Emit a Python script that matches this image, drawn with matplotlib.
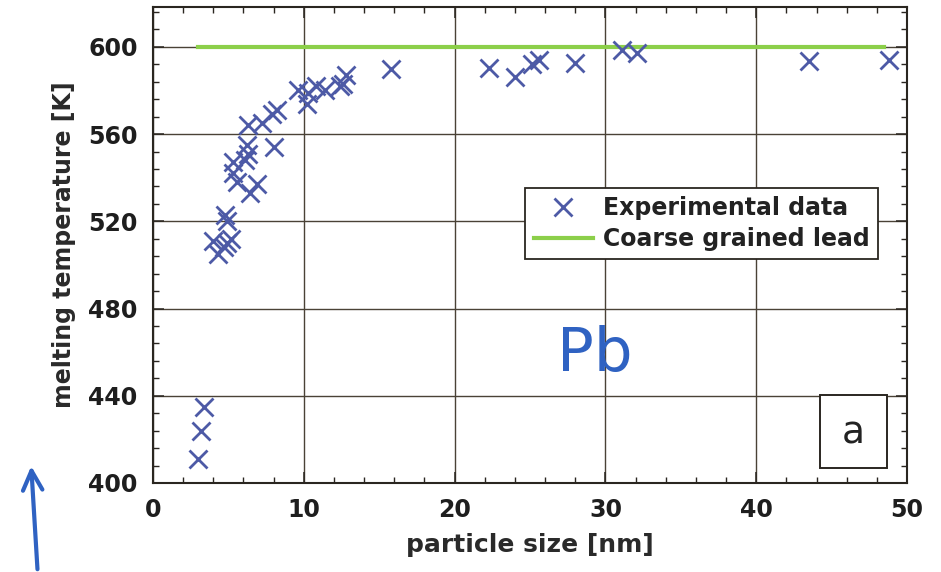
import matplotlib
matplotlib.use("Agg")
from matplotlib import pyplot as plt
from matplotlib.patches import Rectangle
from matplotlib.ticker import MultipleLocator

# experimental melting points of Pb nanoparticles
size_nm = [3.0, 3.2, 3.4, 4.0, 4.3, 4.7, 4.9, 5.2, 4.8, 4.9,
           5.6, 5.3, 5.3, 6.1, 6.3, 6.2, 6.4, 6.9, 8.0, 6.3,
           7.2, 8.2, 7.9, 9.6, 10.3, 10.2, 10.8, 11.4, 12.4, 12.8,
           12.6, 15.8, 22.3, 24.0, 25.1, 25.6, 28.0, 31.1, 32.1, 43.5,
           48.8]
melt_K = [411, 424, 435, 511, 505, 508, 510, 512, 523, 520,
          538, 542, 547, 548, 551, 555, 533, 537, 554, 564,
          565, 571, 569, 580, 579, 574, 582, 580, 582, 587,
          583, 590, 590.5, 586, 592, 594, 592.5, 598.5, 597, 593.5,
          594]

# bulk value
bulk_size = [3.0, 48.5]
bulk_K = [600, 600]

font = 'DejaVu Sans'
ink = '#2a2620'
grid_c = '#4a4236'

fig = plt.figure(figsize=(9.41, 5.72), dpi=100)
ax = fig.add_axes([0.1626, 0.1556, 0.8013, 0.8322])

ax.plot(size_nm, melt_K, linestyle='none', marker='x', ms=12.5, mew=2.0,
        color='#4d5aa6', label='Experimental data', zorder=3)
ax.plot(bulk_size, bulk_K, color='#8ccf4a', lw=3, label='Coarse grained lead',
        zorder=2)

ax.set_xlim(0, 50)
ax.set_ylim(400, 618.3)
ax.xaxis.set_major_locator(MultipleLocator(10))
ax.xaxis.set_minor_locator(MultipleLocator(2))
ax.yaxis.set_major_locator(MultipleLocator(40))
ax.yaxis.set_minor_locator(MultipleLocator(8))
ax.grid(True, which='major', color=grid_c, lw=1.0)
ax.set_axisbelow(True)

ax.tick_params(which='both', direction='in', top=True, right=True,
               color=ink, labelcolor='#1e1e1e')
ax.tick_params(which='major', length=8, width=1.1, labelsize=17, pad=11)
ax.tick_params(which='minor', length=4, width=1.0)
for lab in ax.get_xticklabels() + ax.get_yticklabels():
    lab.set_fontweight('bold')
    lab.set_family(font)
for sp in ax.spines.values():
    sp.set_color(ink)
    sp.set_linewidth(1.5)

ax.set_xlabel('particle size [nm]', fontsize=18, fontweight='bold',
              family=font, color='#2a2a2a', labelpad=8)
ax.set_ylabel('melting temperature [K]', fontsize=17, fontweight='bold',
              family=font, color='#2a2a2a', labelpad=9)

leg = ax.legend(loc='upper right', bbox_to_anchor=(0.962, 0.620),
                borderaxespad=0, fancybox=False, framealpha=1,
                edgecolor=ink, handlelength=2.5, handletextpad=0.45,
                labelspacing=0.3, borderpad=0.35,
                prop={'family': font, 'weight': 'bold', 'size': 17})
leg.get_frame().set_linewidth(1.3)
for t in leg.get_texts():
    t.set_color('#222222')

# panel label box
ax.add_patch(Rectangle((0.885, 0.0315), 0.088, 0.154, transform=ax.transAxes,
                       facecolor='white', edgecolor=ink, lw=1.4, zorder=4))
ax.text(0.929, 0.105, 'a', transform=ax.transAxes, ha='center', va='center',
        fontsize=27, family=font, color='#222222', zorder=5)

# handwritten note
ax.text(0.586, 0.269, 'Pb', transform=ax.transAxes, ha='center', va='center',
        fontsize=44, family=font, color='#2f62c2', zorder=5)
ax.annotate('', xy=(0.033, 0.19), xytext=(0.040, 0.0),
            xycoords='figure fraction', textcoords='figure fraction',
            arrowprops=dict(arrowstyle='->', lw=3, color='#2f62c2',
                            mutation_scale=35))

fig.savefig('out.png', dpi=100)
